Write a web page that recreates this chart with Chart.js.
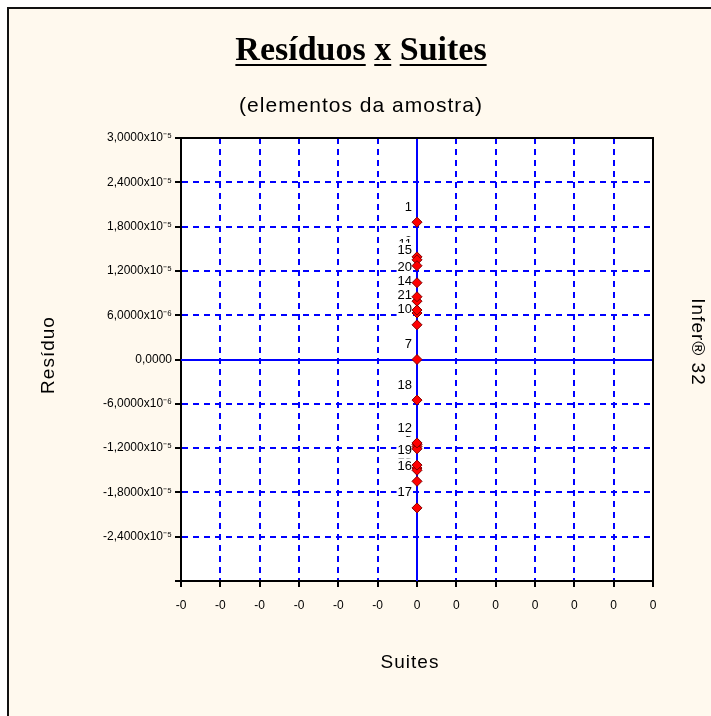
<!DOCTYPE html>
<html>
<head>
<meta charset="utf-8">
<script src="https://cdn.jsdelivr.net/npm/chart.js@4.4.0/dist/chart.umd.min.js"></script>
<style>
  html, body { margin: 0; padding: 0; background: #ffffff; }
  #wrap { width: 711px; height: 716px; }
</style>
</head>
<body>
<div id="wrap"><canvas id="myChart" width="711" height="716"></canvas></div>
<script>
// sample numbers (point labels), suites (x) and residuals (y)
const sampleLabels = ['1','2','3','4','5','6','7','8','9','10','11','12','13','14','15','16','17','18','19','20','21'];
const suites = [0,0,0,0,0,0,0,0,0,0,0,0,0,0,0,0,0,0,0,0,0];
const residuals = [
  1.86e-5, 1.39e-5, 7.9e-6, 6.3e-6, -1.15e-5, -1.18e-5, 0.0, -1.21e-5, -1.47e-5, 4.7e-6,
  1.35e-5, -1.13e-5, -1.50e-5, 8.5e-6, 1.27e-5, -1.65e-5, -2.01e-5, -5.5e-6, -1.43e-5, 1.04e-5, 6.7e-6
];

const yTickValues = [3e-5, 2.4e-5, 1.8e-5, 1.2e-5, 6e-6, 0, -6e-6, -1.2e-5, -1.8e-5, -2.4e-5, -3e-5];
const yTickLabels = ['3,0000x10⁻⁵', '2,4000x10⁻⁵', '1,8000x10⁻⁵', '1,2000x10⁻⁵', '6,0000x10⁻⁶', '0,0000',
  '-6,0000x10⁻⁶', '-1,2000x10⁻⁵', '-1,8000x10⁻⁵', '-2,4000x10⁻⁵', ''];
const xTickValues = [-6,-5,-4,-3,-2,-1,0,1,2,3,4,5,6];
const xTickLabels = ['-0','-0','-0','-0','-0','-0','0','0','0','0','0','0','0'];

const cream = '#fff9ee';
const blue = '#0000ff';

// backgrounds, frame and loose texts
const decor = {
  id: 'decor',
  beforeDraw(chart) {
    const ctx = chart.ctx, a = chart.chartArea;
    ctx.save();
    ctx.fillStyle = '#ffffff';
    ctx.fillRect(0, 0, chart.width, chart.height);
    ctx.fillStyle = cream;
    ctx.fillRect(8, 8, chart.width - 8, chart.height - 8);
    ctx.fillStyle = '#111';
    ctx.fillRect(7, 7, chart.width - 7, 2);
    ctx.fillRect(7, 7, 2, chart.height - 7);
    ctx.fillStyle = '#ffffff';
    ctx.fillRect(a.left, a.top, a.right - a.left, a.bottom - a.top);

    // title, underlined word by word
    ctx.fillStyle = '#000';
    ctx.font = 'bold 34px "Liberation Serif"';
    ctx.textBaseline = 'alphabetic';
    ctx.textAlign = 'left';
    const words = ['Resíduos', 'x', 'Suites'];
    const space = ctx.measureText(' ').width;
    let total = 0;
    words.forEach(w => total += ctx.measureText(w).width);
    total += space * (words.length - 1);
    let x = 361 - total / 2;
    words.forEach(w => {
      const wd = ctx.measureText(w).width;
      ctx.fillText(w, x, 60);
      ctx.fillRect(x, 64, wd, 2);
      x += wd + space;
    });

    ctx.font = '21px "Liberation Sans"';
    ctx.letterSpacing = '1px';
    ctx.textAlign = 'center';
    ctx.textBaseline = 'middle';
    ctx.fillText('(elementos da amostra)', 361, 106);

    ctx.font = '19px "Liberation Sans"';
    ctx.fillText('Suites', 410, 663);

    ctx.save();
    ctx.translate(49, 355);
    ctx.rotate(-Math.PI / 2);
    ctx.fillText('Resíduo', 0, 0);
    ctx.restore();

    ctx.save();
    ctx.translate(697, 342);
    ctx.rotate(Math.PI / 2);
    ctx.fillText('Infer® 32', 0, 0);
    ctx.restore();
    ctx.restore();
  },
  beforeDatasetsDraw(chart) {
    const ctx = chart.ctx, a = chart.chartArea;
    const xs = chart.scales.x, ys = chart.scales.y;
    ctx.save();
    // solid zero lines
    ctx.strokeStyle = blue;
    ctx.lineWidth = 2;
    const x0 = Math.round(xs.getPixelForValue(0));
    const y0 = Math.round(ys.getPixelForValue(0));
    ctx.beginPath();
    ctx.moveTo(x0, a.top);
    ctx.lineTo(x0, a.bottom);
    ctx.moveTo(a.left, y0);
    ctx.lineTo(a.right, y0);
    ctx.stroke();

    // box top and right
    ctx.strokeStyle = '#000';
    ctx.lineWidth = 2;
    ctx.beginPath();
    ctx.moveTo(a.left, a.top);
    ctx.lineTo(a.right, a.top);
    ctx.lineTo(a.right, a.bottom);
    ctx.stroke();

    // point labels, later ones cover earlier ones
    const meta = chart.getDatasetMeta(0);
    ctx.font = '13px "Liberation Sans"';
    ctx.textAlign = 'right';
    ctx.textBaseline = 'middle';
    meta.data.forEach((pt, i) => {
      const t = sampleLabels[i];
      const w = ctx.measureText(t).width;
      const lx = pt.x - 5, ly = pt.y - 15;
      ctx.fillStyle = '#ffffff';
      ctx.fillRect(lx - w - 1, ly - 8, w + 2, 16);
      ctx.fillStyle = '#000';
      ctx.fillText(t, lx, ly);
    });
    ctx.restore();
  }
};

const ctx = document.getElementById('myChart').getContext('2d');
const myChart = new Chart(ctx, {
  type: 'scatter',
  data: {
    datasets: [{
      label: 'Resíduo',
      data: suites.map((s, i) => ({ x: s, y: residuals[i] })),
      pointStyle: 'rectRot',
      radius: 5,
      backgroundColor: '#ff0000',
      borderColor: '#800000',
      borderWidth: 1
    }]
  },
  options: {
    responsive: false,
    devicePixelRatio: 1,
    animation: false,
    layout: {
      padding: { left: 0, top: 138, right: 58, bottom: 95 }
    },
    plugins: {
      legend: { display: false },
      title: { display: false },
      tooltip: { enabled: false }
    },
    scales: {
      x: {
        type: 'linear',
        min: -6,
        max: 6,
        afterBuildTicks: s => { s.ticks = xTickValues.map(v => ({ value: v })); },
        afterFit: s => { s.height = 40; },
        ticks: {
          autoSkip: false,
          maxRotation: 0,
          padding: 11,
          color: '#000',
          font: { family: 'Liberation Sans', size: 12 },
          callback: (v, i) => xTickLabels[i]
        },
        grid: {
          color: blue,
          lineWidth: 2,
          tickColor: '#000',
          tickLength: 6,
          tickWidth: 2
        },
        border: { display: true, color: '#000', width: 2, dash: [6, 5] }
      },
      y: {
        type: 'linear',
        min: -3e-5,
        max: 3e-5,
        afterBuildTicks: s => { s.ticks = yTickValues.map(v => ({ value: v })); },
        afterFit: s => { s.width = 181; },
        ticks: {
          autoSkip: false,
          padding: 3,
          color: '#000',
          font: { family: 'Liberation Sans', size: 12 },
          callback: (v, i) => yTickLabels[i]
        },
        grid: {
          color: blue,
          lineWidth: 2,
          tickColor: '#000',
          tickLength: 6,
          tickWidth: 2
        },
        border: { display: true, color: '#000', width: 2, dash: [6, 5] }
      }
    }
  },
  plugins: [decor]
});
</script>
</body>
</html>
